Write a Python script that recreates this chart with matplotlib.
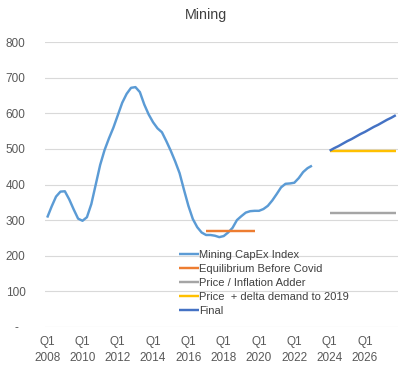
import matplotlib
matplotlib.use("Agg")
import matplotlib.pyplot as plt
import numpy as np

plt.rcParams['font.family'] = ['Liberation Sans', 'DejaVu Sans']

# quarters Q1 2008 .. Q4 2027
years = list(range(2008, 2028))
quarters = [f"Q{q} {y}" for y in years for q in range(1, 5)]

# Mining CapEx Index, Q1 2008 .. Q1 2023
mining = [307, 338, 366, 380, 381, 358, 330, 304, 298, 308,
          345, 400, 455, 497, 530, 560, 595, 630, 655, 672,
          674, 660, 625, 597, 575, 558, 547, 522, 495, 465,
          432, 385, 340, 303, 280, 265, 258, 258, 256, 252,
          255, 265, 278, 300, 311, 321, 325, 326, 326, 331,
          340, 355, 373, 392, 402, 403, 405, 418, 435, 446,
          453]
mining_start = "Q1 2008"

# Equilibrium before covid, Q1 2017 .. Q4 2019
equilibrium = [268] * 12
equilibrium_start = "Q1 2017"

# forecast series, Q1 2024 .. Q4 2027
forecast_start = "Q1 2024"
inflation_adder = [320] * 16
delta_demand = [495] * 16
final = [495, 502, 508, 515, 522, 528, 535, 542,
         548, 555, 562, 568, 575, 582, 588, 595]

series = [
    ("Mining CapEx Index", mining, mining_start, "#5B9BD5"),
    ("Equilibrium Before Covid", equilibrium, equilibrium_start, "#ED7D31"),
    ("Price / Inflation Adder", inflation_adder, forecast_start, "#A5A5A5"),
    ("Price  + delta demand to 2019", delta_demand, forecast_start, "#FFC000"),
    ("Final", final, forecast_start, "#4472C4"),
]

fig = plt.figure(figsize=(4.0, 3.68), dpi=100)
ax = fig.add_axes([0.1125, 0.1122, 0.8825, 0.7728])

for name, vals, start, col in series:
    i0 = quarters.index(start)
    x = np.arange(i0, i0 + len(vals))
    ax.plot(x, vals, color=col, lw=1.75, label=name, solid_capstyle='butt')

ax.set_xlim(-0.5, len(quarters) - 0.5)
ax.set_ylim(0, 800)

yt = [0, 100, 200, 300, 400, 500, 600, 700, 800]
ax.set_yticks(yt)
ax.set_yticklabels(["-  "] + [str(v) for v in yt[1:]])
xt = list(range(0, len(quarters), 8))
ax.set_xticks(xt)
ax.set_xticklabels([quarters[i].replace(" ", "\n") for i in xt], linespacing=1.35)

ax.tick_params(axis='both', length=0, colors='#595959', labelsize=8.5)
ax.tick_params(axis='y', pad=14)
ax.tick_params(axis='x', pad=7)
ax.grid(axis='y', color='#D9D9D9', lw=0.8)
ax.set_axisbelow(True)
for s in ax.spines.values():
    s.set_visible(False)

fig.text(0.516, 1 - 15 / 368, "Mining", ha='center', va='center',
         fontsize=10.3, color='#404040')

leg = ax.legend(loc='upper left', bbox_to_anchor=(0.365, 0.29), frameon=False,
                fontsize=8, handlelength=1.75, handletextpad=0.05,
                labelspacing=0.36, borderpad=0, labelcolor='#404040')

fig.savefig("out.png", dpi=100)
